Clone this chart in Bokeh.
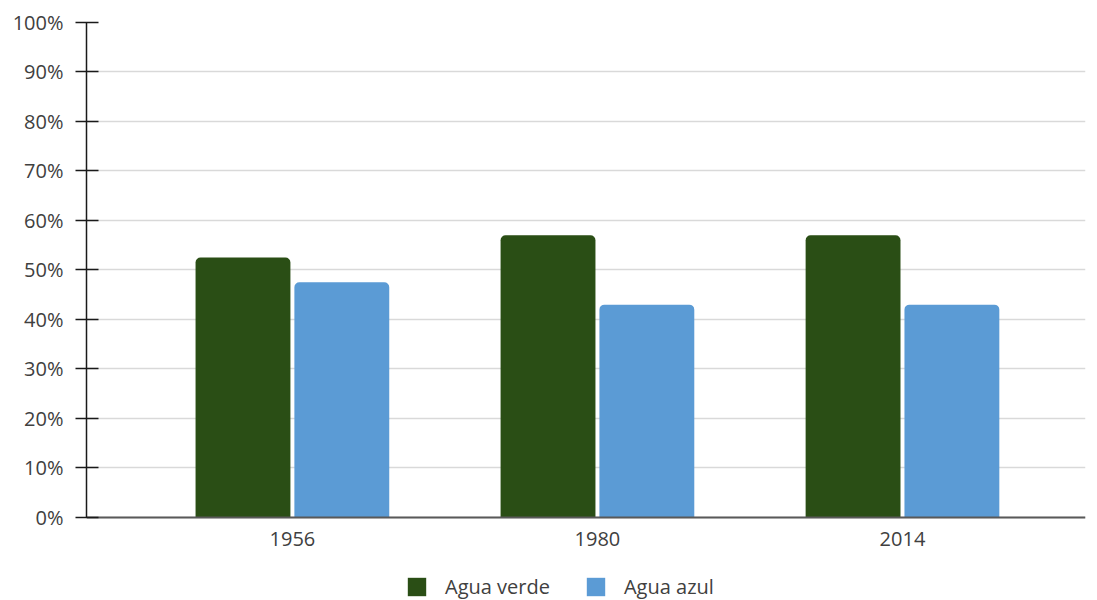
from bokeh.plotting import figure
from bokeh.models import (ColumnDataSource, FixedTicker, PrintfTickFormatter, Legend, LegendItem,
                          Range1d, LinearAxis)
from bokeh.transform import dodge
from bokeh.embed import file_html
from bokeh.resources import INLINE

years = ["1956", "1980", "2014"]
agua_verde = [52.5, 57, 57]
agua_azul = [47.5, 43, 43]
series_names = ["Agua verde", "Agua azul"]
colors = ["#2a4e15", "#5b9bd5"]
y_ticks = [0, 10, 20, 30, 40, 50, 60, 70, 80, 90, 100]

FONT = "Open Sans"
TXT = "#404040"
FS = "20px"

xs = list(range(len(years)))
src = ColumnDataSource(dict(x=xs, verde=agua_verde, azul=agua_azul))

# frame spans from 22px to 600px; 0% sits at 517px (495px per 100%)
p = figure(frame_width=999, frame_height=578, output_backend="svg", toolbar_location=None,
           x_range=Range1d(-0.675, 2.6), y_range=Range1d(-16.77, 100),
           x_axis_location=None,
           min_border_left=86, min_border_top=22, min_border_right=4, min_border_bottom=0)
p.outline_line_color = None

r1 = p.vbar(x=dodge("x", -0.162, range=p.x_range), top="verde", width=0.311, source=src,
            fill_color=colors[0], line_color=None, border_radius=(5, 5, 0, 0))
r2 = p.vbar(x=dodge("x", 0.162, range=p.x_range), top="azul", width=0.311, source=src,
            fill_color=colors[1], line_color=None, border_radius=(5, 5, 0, 0))

xa = LinearAxis(fixed_location=0)
xa.ticker = FixedTicker(ticks=xs)
xa.major_label_overrides = {i: y for i, y in enumerate(years)}
xa.major_tick_line_color = None
xa.minor_tick_line_color = None
xa.axis_line_color = "#595959"
xa.axis_line_width = 2
xa.major_label_text_font = FONT
xa.major_label_text_font_size = FS
xa.major_label_text_color = TXT
xa.major_label_standoff = 9
p.add_layout(xa, "below")

ya = p.yaxis[0]
ya.ticker = FixedTicker(ticks=y_ticks)
ya.bounds = (0, 100)
ya.formatter = PrintfTickFormatter(format="%d%%")
ya.minor_tick_line_color = None
ya.axis_line_color = "#1a1a1a"
ya.axis_line_width = 1.5
ya.major_tick_line_color = "#1a1a1a"
ya.major_tick_line_width = 1.5
ya.major_tick_in = 12
ya.major_tick_out = 11
ya.major_label_text_font = FONT
ya.major_label_text_font_size = FS
ya.major_label_text_color = TXT
ya.major_label_standoff = 12

p.xgrid.grid_line_color = None
p.ygrid.ticker = FixedTicker(ticks=y_ticks)
p.ygrid.grid_line_color = "#d9d9d9"
p.ygrid.grid_line_width = 1.5

legend = Legend(items=[LegendItem(label=series_names[0], renderers=[r1]),
                       LegendItem(label=series_names[1], renderers=[r2])],
                orientation="horizontal", location=(319, 0),
                glyph_width=23, glyph_height=23, label_standoff=17, spacing=34,
                label_text_font=FONT, label_text_font_size=FS, label_text_color=TXT,
                border_line_color=None, background_fill_alpha=0, padding=0, margin=0)
p.add_layout(legend, "center")

open("out.html", "w").write(file_html(p, INLINE))
